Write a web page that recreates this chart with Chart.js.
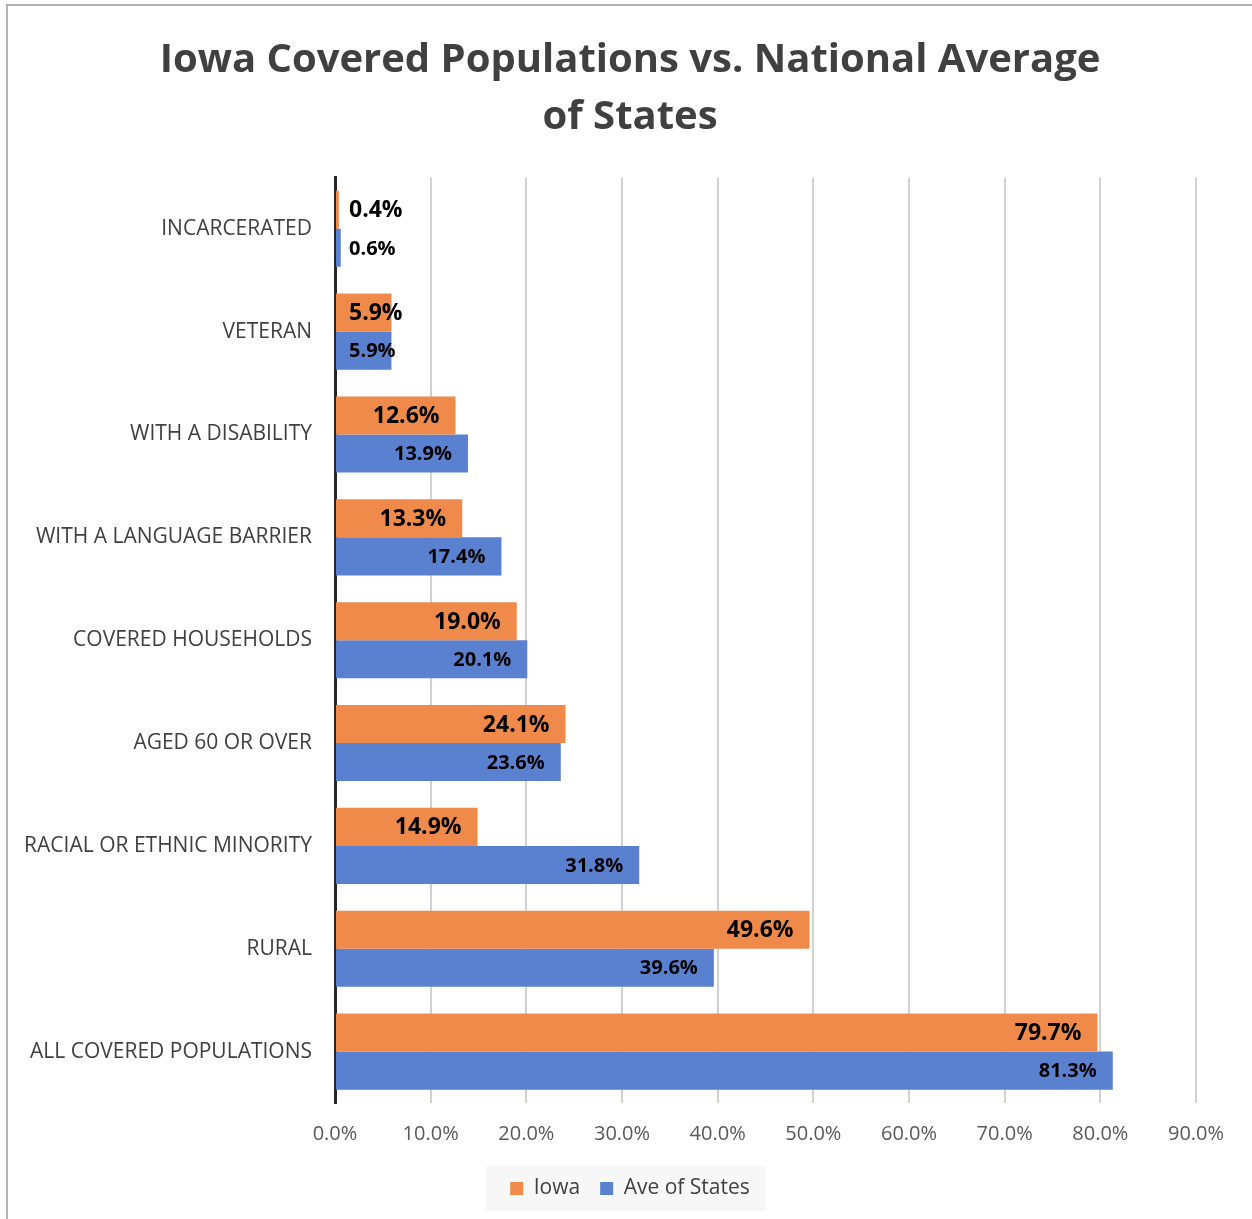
<!DOCTYPE html>
<html>
<head>
<meta charset="utf-8">
<title>Iowa Covered Populations vs. National Average of States</title>
<script src="https://cdn.jsdelivr.net/npm/chart.js@4.4.1/dist/chart.umd.min.js"></script>
<style>
  html, body { margin: 0; padding: 0; background: #fff; }
  #wrap { position: relative; width: 1252px; height: 1219px; }
  #frame {
    position: absolute; left: 6px; top: 4px; right: -4px; bottom: -4px;
    border-left: 2px solid #b3b3b3; border-top: 2px solid #b3b3b3;
    pointer-events: none;
  }
</style>
</head>
<body>
<div id="wrap">
  <canvas id="chart" width="1252" height="1219"></canvas>
  <div id="frame"></div>
</div>
<script>
  const categories = [
    'INCARCERATED',
    'VETERAN',
    'WITH A DISABILITY',
    'WITH A LANGUAGE BARRIER',
    'COVERED HOUSEHOLDS',
    'AGED 60 OR OVER',
    'RACIAL OR ETHNIC MINORITY',
    'RURAL',
    'ALL COVERED POPULATIONS'
  ];
  const iowaValues = [0.4, 5.9, 12.6, 13.3, 19.0, 24.1, 14.9, 49.6, 79.7];
  const stateAvgValues = [0.6, 5.9, 13.9, 17.4, 20.1, 23.6, 31.8, 39.6, 81.3];
  const xTicks = [0, 10, 20, 30, 40, 50, 60, 70, 80, 90];

  const FONT = "'Open Sans', 'Noto Sans', sans-serif";
  const ORANGE = '#ef8a4b';
  const BLUE = '#5a81cf';
  const CENTER_LEFT = 64; // title and legend are centred between here and the plot's right edge

  // value labels: right-aligned inside the bar end, pushed past the axis when the bar is too short
  const barLabels = {
    id: 'barLabels',
    afterDatasetsDraw(chart) {
      const ctx = chart.ctx;
      const zeroX = chart.scales.x.getPixelForValue(0);
      chart.data.datasets.forEach((ds, di) => {
        const meta = chart.getDatasetMeta(di);
        ctx.save();
        ctx.font = (di === 0 ? 'bold 23px ' : 'bold 20px ') + FONT;
        ctx.fillStyle = '#000';
        ctx.textBaseline = 'middle';
        ctx.textAlign = 'left';
        meta.data.forEach((bar, i) => {
          const txt = ds.data[i].toFixed(1) + '%';
          const w = ctx.measureText(txt).width;
          const x = Math.max(bar.x - 16 - w, zeroX + 14);
          ctx.fillText(txt, x, bar.y + 1);
        });
        ctx.restore();
      });
    }
  };

  // shift the title and legend boxes so they centre a little right of the canvas middle
  const shiftBlocks = {
    id: 'shiftBlocks',
    afterLayout(chart) {
      [chart.titleBlock, chart.legend].forEach(b => {
        if (!b) return;
        b.left = CENTER_LEFT;
        b.width = b.right - b.left;
      });
    }
  };

  // light grey panel behind the legend items
  const legendPanel = {
    id: 'legendPanel',
    beforeDraw(chart) {
      const boxes = chart.legend && chart.legend.legendHitBoxes;
      if (!boxes || !boxes.length) return;
      const left = Math.min(...boxes.map(b => b.left)) - 24;
      const right = Math.max(...boxes.map(b => b.left + b.width)) + 16;
      const top = Math.min(...boxes.map(b => b.top)) - 12;
      const bottom = Math.max(...boxes.map(b => b.top + b.height)) + 12;
      const ctx = chart.ctx;
      ctx.save();
      ctx.fillStyle = '#f7f7f7';
      ctx.fillRect(left, top, right - left, bottom - top);
      ctx.restore();
    }
  };

  new Chart(document.getElementById('chart'), {
    type: 'bar',
    data: {
      labels: categories,
      datasets: [
        { label: 'Iowa', data: iowaValues, backgroundColor: ORANGE },
        { label: 'Ave of States', data: stateAvgValues, backgroundColor: BLUE }
      ]
    },
    options: {
      indexAxis: 'y',
      responsive: false,
      animation: false,
      devicePixelRatio: 1,
      categoryPercentage: 0.74,
      barPercentage: 1.0,
      layout: { padding: { left: 0, right: 56, top: 0, bottom: 10 } },
      plugins: {
        title: {
          display: true,
          text: ['Iowa Covered Populations vs. National Average', 'of States'],
          color: '#404040',
          font: { family: FONT, size: 40, weight: 'bold', lineHeight: 1.43 },
          padding: { top: 32, bottom: 31 }
        },
        legend: {
          position: 'bottom',
          labels: {
            color: '#404040',
            font: { family: FONT, size: 21 },
            boxWidth: 13,
            boxHeight: 13,
            padding: 20
          }
        },
        tooltip: { enabled: false }
      },
      scales: {
        x: {
          min: 0,
          max: 90,
          afterBuildTicks(scale) {
            scale.ticks = xTicks.map(v => ({ value: v }));
          },
          afterFit(scale) { scale.height = 55; },
          ticks: {
            color: '#595959',
            font: { family: FONT, size: 20 },
            padding: 19,
            callback: v => Number(v).toFixed(1) + '%'
          },
          grid: { color: '#d2d2d2', lineWidth: 2, drawTicks: false },
          border: { display: false }
        },
        y: {
          afterFit(scale) { scale.width = 335; },
          ticks: {
            color: '#404040',
            font: { family: FONT, size: 21 },
            padding: 15
          },
          grid: { display: false },
          border: { display: true, color: '#262626', width: 3 }
        }
      }
    },
    plugins: [shiftBlocks, legendPanel, barLabels]
  });
</script>
</body>
</html>
